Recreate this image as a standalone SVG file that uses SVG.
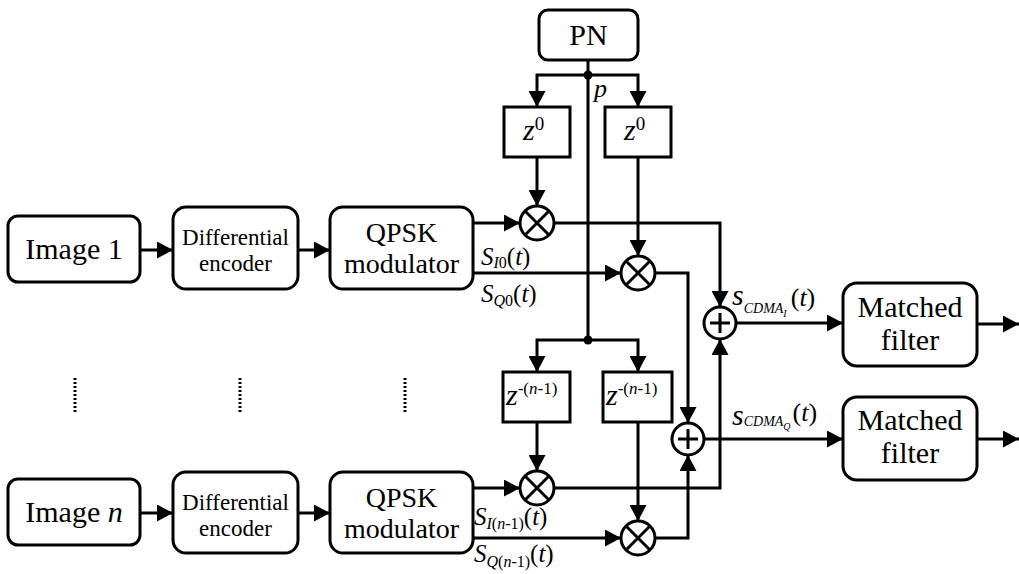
<svg xmlns="http://www.w3.org/2000/svg" width="1019" height="574" viewBox="0 0 1019 574">
  <defs>
    <style>
      .box { fill: #fff; stroke: #000; stroke-width: 3; }
      .wire { fill: none; stroke: #000; stroke-width: 3; }
      .arw { fill: none; stroke: #000; stroke-width: 3; marker-end: url(#head); }
      .op { fill: #fff; stroke: #000; stroke-width: 3; }
      .dots { fill: none; stroke: #000; stroke-width: 3; stroke-dasharray: 2 2; }
      .it { font-style: italic; }
    </style>
    <marker id="head" markerUnits="userSpaceOnUse" markerWidth="17" markerHeight="17" refX="16" refY="8.5" orient="auto">
      <path d="M0,0 L16,8.5 L0,17 z" fill="#000"/>
    </marker>
  </defs>
  <rect width="1019" height="574" fill="#fff"/>

  <!-- connectors -->
  <g id="connectors">
    <path class="arw" d="M140,250 H173"/>
    <path class="arw" d="M298,250 H330"/>
    <path class="arw" d="M473,223 H520"/>
    <path class="arw" d="M473,273 H621"/>
    <path class="arw" d="M140,513 H173"/>
    <path class="arw" d="M298,513 H330"/>
    <path class="arw" d="M473,488 H520"/>
    <path class="arw" d="M473,538 H621"/>

    <!-- PN code bus -->
    <path class="wire" d="M588,60 V340"/>
    <path class="arw" d="M588,75 H537 V107"/>
    <path class="arw" d="M588,75 H638 V107"/>
    <path class="arw" d="M588,340 H537 V372"/>
    <path class="arw" d="M588,340 H638 V372"/>

    <!-- delays into multipliers -->
    <path class="arw" d="M537,157 V206"/>
    <path class="arw" d="M638,157 V256"/>
    <path class="arw" d="M537,422 V471"/>
    <path class="arw" d="M638,422 V521"/>

    <!-- multipliers into adders -->
    <path class="arw" d="M554,223 H720 V307"/>
    <path class="arw" d="M655,273 H688 V423"/>
    <path class="arw" d="M554,488 H720 V339"/>
    <path class="arw" d="M655,538 H688 V455"/>

    <!-- adders to matched filters and outputs -->
    <path class="arw" d="M736,323 H843"/>
    <path class="arw" d="M704,439 H843"/>
    <path class="arw" d="M977,324 H1019"/>
    <path class="arw" d="M977,439 H1019"/>

    <circle cx="588" cy="75" r="4.5" fill="#000"/>
    <circle cx="588" cy="340" r="4.5" fill="#000"/>

    <path class="dots" d="M75,378 V412"/>
    <path class="dots" d="M240,378 V412"/>
    <path class="dots" d="M405,378 V412"/>
  </g>

  <!-- source branch 1 -->
  <g id="image1">
    <rect class="box" x="8" y="216" width="132" height="66" rx="10"/>
    <text font-family="Liberation Serif" font-size="30" text-anchor="middle" x="74" y="259">Image 1</text>
  </g>
  <g id="diffenc1">
    <rect class="box" x="173" y="207" width="125" height="82" rx="13"/>
    <text font-family="Liberation Serif" font-size="23" text-anchor="middle" x="235.5" y="245">Differential</text>
    <text font-family="Liberation Serif" font-size="23" text-anchor="middle" x="235.5" y="271">encoder</text>
  </g>
  <g id="qpsk1">
    <rect class="box" x="330" y="207" width="143" height="82" rx="13"/>
    <text font-family="Liberation Serif" font-size="28" text-anchor="middle" x="401.5" y="242">QPSK</text>
    <text font-family="Liberation Serif" font-size="28" text-anchor="middle" x="401.5" y="273">modulator</text>
  </g>

  <!-- source branch n -->
  <g id="imagen">
    <rect class="box" x="8" y="479" width="132" height="66" rx="10"/>
    <text font-family="Liberation Serif" font-size="30" text-anchor="middle" x="74" y="522">Image <tspan class="it">n</tspan></text>
  </g>
  <g id="diffencn">
    <rect class="box" x="173" y="472" width="125" height="81" rx="13"/>
    <text font-family="Liberation Serif" font-size="23" text-anchor="middle" x="235.5" y="510">Differential</text>
    <text font-family="Liberation Serif" font-size="23" text-anchor="middle" x="235.5" y="536">encoder</text>
  </g>
  <g id="qpskn">
    <rect class="box" x="330" y="472" width="143" height="81" rx="13"/>
    <text font-family="Liberation Serif" font-size="28" text-anchor="middle" x="401.5" y="507">QPSK</text>
    <text font-family="Liberation Serif" font-size="28" text-anchor="middle" x="401.5" y="538">modulator</text>
  </g>

  <!-- spreading code generator -->
  <g id="pn">
    <rect class="box" x="539" y="10" width="99" height="50" rx="9"/>
    <text font-family="Liberation Serif" font-size="30" text-anchor="middle" x="588.5" y="45">PN</text>
    <text class="it" font-family="Liberation Serif" x="594" y="97" font-size="26">p</text>
  </g>

  <!-- delay elements -->
  <g id="delayI0">
    <rect class="box" x="504" y="107" width="66" height="50"/>
    <text font-family="Liberation Serif" x="523" y="140" font-size="30"><tspan class="it">z</tspan><tspan font-size="19" dy="-10">0</tspan></text>
  </g>
  <g id="delayQ0">
    <rect class="box" x="605" y="107" width="66" height="50"/>
    <text font-family="Liberation Serif" x="624" y="140" font-size="30"><tspan class="it">z</tspan><tspan font-size="19" dy="-10">0</tspan></text>
  </g>
  <g id="delayIn">
    <rect class="box" x="503" y="372" width="67" height="50"/>
    <text font-family="Liberation Serif" x="506" y="405" font-size="30"><tspan class="it">z</tspan><tspan font-size="17" dy="-11">-(<tspan class="it">n</tspan>-1)</tspan></text>
  </g>
  <g id="delayQn">
    <rect class="box" x="603" y="372" width="69" height="50"/>
    <text font-family="Liberation Serif" x="606" y="405" font-size="30"><tspan class="it">z</tspan><tspan font-size="17" dy="-11">-(<tspan class="it">n</tspan>-1)</tspan></text>
  </g>

  <!-- multipliers -->
  <g id="mulI0">
    <circle class="op" cx="537" cy="223" r="17"/>
    <path class="wire" d="M525,211 L549,235 M549,211 L525,235"/>
  </g>
  <g id="mulQ0">
    <circle class="op" cx="638" cy="273" r="17"/>
    <path class="wire" d="M626,261 L650,285 M650,261 L626,285"/>
  </g>
  <g id="mulIn">
    <circle class="op" cx="537" cy="488" r="17"/>
    <path class="wire" d="M525,476 L549,500 M549,476 L525,500"/>
  </g>
  <g id="mulQn">
    <circle class="op" cx="638" cy="538" r="17"/>
    <path class="wire" d="M626,526 L650,550 M650,526 L626,550"/>
  </g>

  <!-- adders -->
  <g id="sumI">
    <circle class="op" cx="720" cy="323" r="16"/>
    <path class="wire" d="M710,323 H730 M720,313 V333"/>
  </g>
  <g id="sumQ">
    <circle class="op" cx="688" cy="439" r="16"/>
    <path class="wire" d="M678,439 H698 M688,429 V449"/>
  </g>

  <!-- matched filters -->
  <g id="mf1">
    <rect class="box" x="843" y="283" width="134" height="83" rx="14"/>
    <text font-family="Liberation Serif" font-size="30" text-anchor="middle" x="910" y="317">Matched</text>
    <text font-family="Liberation Serif" font-size="30" text-anchor="middle" x="910" y="350">filter</text>
  </g>
  <g id="mf2">
    <rect class="box" x="843" y="397" width="134" height="83" rx="14"/>
    <text font-family="Liberation Serif" font-size="30" text-anchor="middle" x="910" y="430">Matched</text>
    <text font-family="Liberation Serif" font-size="30" text-anchor="middle" x="910" y="463">filter</text>
  </g>

  <!-- signal labels -->
  <g id="labels">
    <text font-family="Liberation Serif" x="481" y="265" font-size="25"><tspan class="it">S</tspan><tspan font-size="16" dy="3"><tspan class="it">I</tspan>0</tspan><tspan dy="-3">(<tspan class="it">t</tspan>)</tspan></text>
    <text font-family="Liberation Serif" x="481" y="302" font-size="25"><tspan class="it">S</tspan><tspan font-size="16" dy="4"><tspan class="it">Q</tspan>0</tspan><tspan dy="-4">(<tspan class="it">t</tspan>)</tspan></text>
    <text font-family="Liberation Serif" x="474" y="525" font-size="25"><tspan class="it">S</tspan><tspan font-size="16" dy="4"><tspan class="it">I</tspan>(<tspan class="it">n</tspan>-1)</tspan><tspan dy="-4">(<tspan class="it">t</tspan>)</tspan></text>
    <text font-family="Liberation Serif" x="474" y="562" font-size="25"><tspan class="it">S</tspan><tspan font-size="16" dy="5"><tspan class="it">Q</tspan>(<tspan class="it">n</tspan>-1)</tspan><tspan dy="-5">(<tspan class="it">t</tspan>)</tspan></text>
    <text font-family="Liberation Serif" x="732" y="305" font-size="30"><tspan class="it">s</tspan><tspan class="it" font-size="14" dy="8">CDMA</tspan><tspan class="it" font-size="10" dy="4">I</tspan><tspan font-size="26" dx="4" dy="-11">(<tspan class="it">t</tspan>)</tspan></text>
    <text font-family="Liberation Serif" x="732" y="425" font-size="30"><tspan class="it">s</tspan><tspan class="it" font-size="14" dy="1">CDMA</tspan><tspan class="it" font-size="10" dy="4">Q</tspan><tspan font-size="26" dx="2" dy="-9">(<tspan class="it">t</tspan>)</tspan></text>
  </g>
</svg>
